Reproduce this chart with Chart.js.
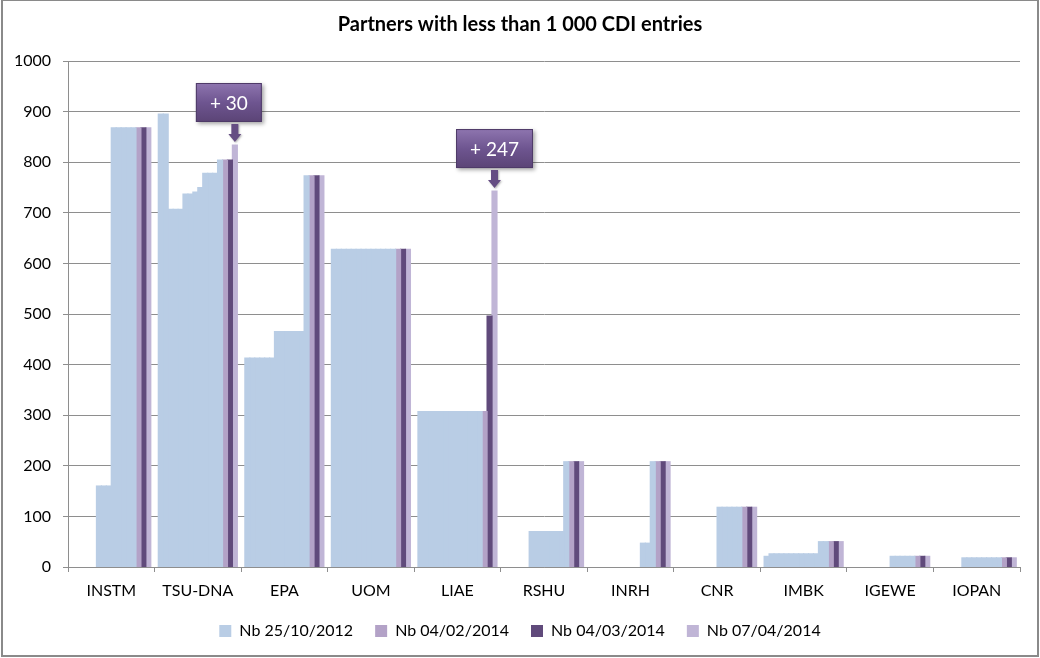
<!DOCTYPE html>
<html>
<head>
<meta charset="utf-8">
<title>Partners with less than 1 000 CDI entries</title>
<script src="https://cdn.jsdelivr.net/npm/chart.js@4.4.1/dist/chart.umd.min.js"></script>
<style>
    html, body { margin: 0; padding: 0; background: #fff; }
    #wrap { position: relative; width: 1040px; height: 658px; }
    #wrap canvas { position: absolute; left: 0; top: 0; }
    #frame {
        position: absolute; left: 1px; top: -1px; width: 1038px; height: 658px;
        box-sizing: border-box; border: 2px solid #8a8a8a; pointer-events: none;
    }
</style>
</head>
<body>
<div id="wrap">
    <canvas id="cdiChart" width="1040" height="658"></canvas>
    <div id="frame"></div>
</div>
<script>
// Catégories (partenaires)
const categories = ['INSTM', 'TSU-DNA', 'EPA', 'UOM', 'LIAE', 'RSHU', 'INRH', 'CNR', 'IMBK', 'IGEWE', 'IOPAN'];

// Nombre d'entrées par relevé (16 relevés, du plus ancien au plus récent)
const instm  = [0, 0, 0, 0, 0, 160, 160, 160, 868, 868, 868, 868, 868, 868, 868, 868];
const tsuDna = [895, 895, 707, 707, 707, 737, 737, 741, 750, 778, 778, 778, 804, 804, 804, 834];
const epa    = [413, 413, 413, 413, 413, 413, 465, 465, 465, 465, 465, 465, 773, 773, 773, 773];
const uom    = [628, 628, 628, 628, 628, 628, 628, 628, 628, 628, 628, 628, 628, 628, 628, 628];
const liae   = [307, 307, 307, 307, 307, 307, 307, 307, 307, 307, 307, 307, 307, 307, 496, 743];
const rshu   = [0, 0, 0, 0, 0, 70, 70, 70, 70, 70, 70, 70, 208, 208, 208, 208];
const inrh   = [0, 0, 0, 0, 0, 0, 0, 0, 0, 0, 47, 47, 208, 208, 208, 208];
const cnr    = [0, 0, 0, 0, 0, 0, 0, 0, 118, 118, 118, 118, 118, 118, 118, 118];
const imbk   = [21, 26, 26, 26, 26, 26, 26, 26, 26, 26, 26, 50, 50, 50, 50, 50];
const igewe  = [0, 0, 0, 0, 0, 0, 0, 0, 21, 21, 21, 21, 21, 21, 21, 21];
const iopan  = [0, 0, 0, 0, 0, 18, 18, 18, 18, 18, 18, 18, 18, 18, 18, 18];

const rows = [instm, tsuDna, epa, uom, liae, rshu, inrh, cnr, imbk, igewe, iopan];

// Libellés des relevés (seuls 4 apparaissent dans la légende)
const seriesLabels = [
    'Nb 25/10/2012', 'Nb relevé 2', 'Nb relevé 3', 'Nb relevé 4', 'Nb relevé 5', 'Nb relevé 6',
    'Nb relevé 7', 'Nb relevé 8', 'Nb relevé 9', 'Nb relevé 10', 'Nb relevé 11', 'Nb relevé 12',
    'Nb relevé 13', 'Nb 04/02/2014', 'Nb 04/03/2014', 'Nb 07/04/2014'
];
const legendSeries = [0, 13, 14, 15];

// Axe Y
const yMin = 0, yMax = 1000, yStep = 100;

// Bulles : écart entre les deux derniers relevés
const callouts = [
    { category: 1, dx: -6 },
    { category: 4, dx: 0 }
];

const FONT = 'Lato, "Open Sans", sans-serif';
const GRID = '#8e8e8e';

function seriesColor(i) {
    if (i === 13) return '#B3A2C7';
    if (i === 14) return '#604A7B';
    if (i === 15) return '#C0B5D6';
    return '#B9CDE5';
}

const datasets = seriesLabels.map((label, s) => ({
    label: label,
    data: rows.map(r => r[s]),
    backgroundColor: seriesColor(s),
    borderWidth: 0,
    // léger chevauchement pour éviter les fentes blanches, sauf pour les valeurs nulles
    inflateAmount: (ctx) => (ctx.raw ? 0.6 : 0),
    categoryPercentage: 0.913,
    barPercentage: 1.0
}));

// Plugin pour dessiner les bulles "+ N" avec flèche
const calloutPlugin = {
    id: 'callouts',
    afterDatasetsDraw(chart) {
        const ctx = chart.ctx;
        const last = seriesLabels.length - 1;
        callouts.forEach(c => {
            const el = chart.getDatasetMeta(last).data[c.category];
            const diff = rows[c.category][last] - rows[c.category][last - 1];
            const text = '+ ' + diff;
            ctx.save();
            ctx.font = '19px ' + FONT;
            const tw = ctx.measureText(text).width;
            const w = tw + 28, h = 39;
            const bx = el.x + c.dx - w / 2;
            const by = el.y - 23 - h;

            // ombre + boîte
            ctx.shadowColor = 'rgba(0,0,0,0.35)';
            ctx.shadowBlur = 4;
            ctx.shadowOffsetX = 2;
            ctx.shadowOffsetY = 2;
            const g = ctx.createLinearGradient(0, by, 0, by + h);
            g.addColorStop(0, '#8E75AF');
            g.addColorStop(0.5, '#6E5590');
            g.addColorStop(1, '#5B4476');
            ctx.fillStyle = g;
            ctx.fillRect(bx, by, w, h);
            ctx.shadowColor = 'transparent';
            ctx.strokeStyle = '#4F3B68';
            ctx.lineWidth = 1;
            ctx.strokeRect(bx + 0.5, by + 0.5, w - 1, h - 1);

            ctx.fillStyle = '#fff';
            ctx.textAlign = 'center';
            ctx.textBaseline = 'middle';
            ctx.fillText(text, bx + w / 2, by + h / 2 + 1);

            // flèche
            const ax = el.x;
            const top = by + h + 2;
            const neck = el.y - 11;
            const tip = el.y - 3;
            ctx.shadowColor = 'rgba(0,0,0,0.3)';
            ctx.shadowBlur = 2;
            ctx.shadowOffsetX = 1;
            ctx.shadowOffsetY = 1;
            ctx.fillStyle = '#654D83';
            ctx.beginPath();
            ctx.moveTo(ax - 3.5, top);
            ctx.lineTo(ax + 3.5, top);
            ctx.lineTo(ax + 3.5, neck);
            ctx.lineTo(ax + 6.5, neck);
            ctx.lineTo(ax, tip);
            ctx.lineTo(ax - 6.5, neck);
            ctx.lineTo(ax - 3.5, neck);
            ctx.closePath();
            ctx.fill();
            ctx.restore();
        });
    }
};

new Chart(document.getElementById('cdiChart'), {
    type: 'bar',
    data: { labels: categories, datasets: datasets },
    plugins: [calloutPlugin],
    options: {
        responsive: false,
        animation: false,
        events: [],
        devicePixelRatio: 1,
        layout: { padding: { left: 0, right: 0, top: 0, bottom: 9 } },
        plugins: {
            title: {
                display: true,
                text: 'Partners with less than 1 000 CDI entries',
                color: '#000',
                font: { family: FONT, size: 20, weight: 'bold' },
                padding: { top: 13, bottom: 24 }
            },
            legend: {
                position: 'bottom',
                labels: {
                    color: '#000',
                    font: { family: FONT, size: 16 },
                    boxWidth: 12,
                    boxHeight: 12,
                    padding: 22,
                    filter: (item) => legendSeries.includes(item.datasetIndex)
                }
            },
            tooltip: { enabled: false }
        },
        scales: {
            x: {
                grid: {
                    display: true,
                    drawOnChartArea: false,
                    drawTicks: true,
                    tickLength: 5,
                    color: GRID
                },
                border: { display: true, color: GRID },
                ticks: {
                    color: '#000',
                    font: { family: FONT, size: 16 },
                    padding: 9,
                    maxRotation: 0
                },
                afterFit(scale) { scale.height = 34; }
            },
            y: {
                min: yMin,
                max: yMax,
                ticks: {
                    stepSize: yStep,
                    color: '#000',
                    font: { family: FONT, size: 16 },
                    padding: 12,
                    callback: (v) => String(v)
                },
                grid: { color: GRID, tickLength: 5 },
                border: { display: true, color: GRID },
                afterFit(scale) { scale.width = 68; }
            },
            yRight: {
                position: 'right',
                display: true,
                ticks: { display: false },
                grid: { display: false },
                border: { display: false },
                afterFit(scale) { scale.width = 20; }
            }
        }
    }
});
</script>
</body>
</html>
